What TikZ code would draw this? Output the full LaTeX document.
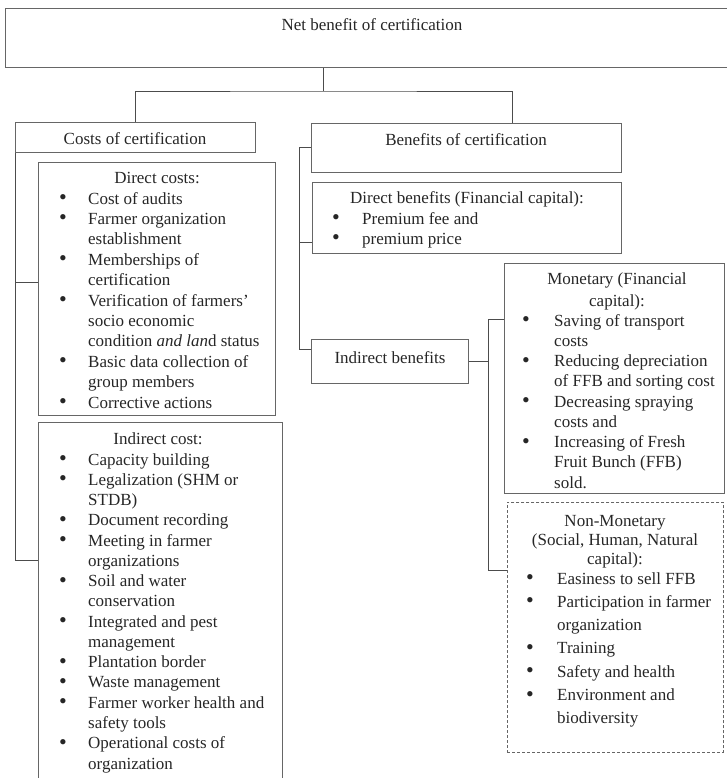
\documentclass[tikz,border=0pt]{standalone}
\usepackage{fontspec}
\setmainfont{Liberation Serif}
\usetikzlibrary{calc,positioning}

\newcommand\bul{\raisebox{-0.5pt}{\scalebox{1.3}{\textbullet}}}
\tikzset{
  frame/.style={draw=black!60,line width=0.8pt,anchor=north west,inner sep=0pt},
  txt/.style={text=black!85,inner sep=0pt,anchor=base,font=\fontsize{17}{20.4}\selectfont},
  lst/.style={txt,anchor=base west},
  wire/.style={draw=black!70,line width=0.8pt},
}

\begin{document}
\begin{tikzpicture}[x=1pt,y=-1pt]
\useasboundingbox (0,0) rectangle (726,778);
% boxes
\node[frame,minimum width=730pt,minimum height=59pt] (net) at (5,8) {};
\node[frame,minimum width=240pt,minimum height=30pt] (costs) at (15,122) {};
\node[frame,minimum width=310pt,minimum height=49pt] (ben) at (311,123) {};
\node[frame,minimum width=237pt,minimum height=253pt] (dcost) at (38,162) {};
\node[frame,minimum width=244pt,minimum height=380pt] (icost) at (38,422) {};
\node[frame,minimum width=309pt,minimum height=71pt] (db) at (312,182) {};
\node[frame,minimum width=157pt,minimum height=44pt] (ib) at (311,339) {};
\node[frame,minimum width=220pt,minimum height=230pt] (mon) at (504,263) {};
\node[frame,dash pattern=on 3pt off 2pt,line width=0.6pt,minimum width=216pt,minimum height=250pt] (nmon) at (507,502) {};

% titles
\node[txt] (netT) at (372,31) {Net benefit of certification};
\node[txt] (costsT) at (135,145) {Costs of certification};
\node[txt] (benT) at (466,146) {Benefits of certification};
\node[txt] (dcostT) at (157,183) {Direct costs:};
\node[txt] (icostT) at (158,444) {Indirect cost:};
\node[txt] (dbT) at (467,203) {Direct benefits (Financial capital):};
\node[txt] (ibT) at (390,363) {Indirect benefits};
\node[txt,font=\fontsize{17}{22}\selectfont] (monT) at (617,284)
  {\begin{tabular}[t]{@{}c@{}}Monetary (Financial\\capital):\end{tabular}};
\node[txt,font=\fontsize{17}{19}\selectfont] (nmonT) at (615,526)
  {\begin{tabular}[t]{@{}c@{}}Non-Monetary\\(Social, Human, Natural\\capital):\end{tabular}};

% lists
\node[lst] (dcostL) at (59,204) {\begin{tabular}[t]{@{}p{29pt}@{}l@{}}
  \bul & Cost of audits\\
  \bul & Farmer organization\\
       & establishment\\
  \bul & Memberships of\\
       & certification\\
  \bul & Verification of farmers'\\
       & socio economic\\
       & condition \textit{and lan}d status\\
  \bul & Basic data collection of\\
       & group members\\
  \bul & Corrective actions
\end{tabular}};
\node[lst,font=\fontsize{17}{20.27}\selectfont] (icostL) at (59,465) {\begin{tabular}[t]{@{}p{29pt}@{}l@{}}
  \bul & Capacity building\\
  \bul & Legalization (SHM or\\
       & STDB)\\
  \bul & Document recording\\
  \bul & Meeting in farmer\\
       & organizations\\
  \bul & Soil and water\\
       & conservation\\
  \bul & Integrated and pest\\
       & management\\
  \bul & Plantation border\\
  \bul & Waste management\\
  \bul & Farmer worker health and\\
       & safety tools\\
  \bul & Operational costs of\\
       & organization
\end{tabular}};
\node[lst] (dbL) at (332,224) {\begin{tabular}[t]{@{}p{30pt}@{}l@{}}
  \bul & Premium fee and\\
  \bul & premium price
\end{tabular}};
\node[lst,font=\fontsize{17}{20.25}\selectfont] (monL) at (522,326) {\begin{tabular}[t]{@{}p{32pt}@{}l@{}}
  \bul & Saving of transport\\
       & costs\\
  \bul & Reducing depreciation\\
       & of FFB and sorting cost\\
  \bul & Decreasing spraying\\
       & costs and\\
  \bul & Increasing of Fresh\\
       & Fruit Bunch (FFB)\\
       & sold.
\end{tabular}};
\node[lst,font=\fontsize{17}{23.3}\selectfont] (nmonL) at (526,584) {\begin{tabular}[t]{@{}p{31pt}@{}l@{}}
  \bul & Easiness to sell FFB\\
  \bul & Participation in farmer\\
       & organization\\
  \bul & Training\\
  \bul & Safety and health\\
  \bul & Environment and\\
       & biodiversity
\end{tabular}};

% connectors
\coordinate (hub) at (323,91);
\draw[wire] (net.south -| hub) -- (hub);
\draw[wire] (costs.north) |- (hub) -| ($(ben.north west)+(201,0)$);
\draw[wire] (costs.south west) |- ([yshift=-138pt]icost.north west);
\draw[wire] ([yshift=6.5pt]dcost.west) -| (costs.south west);
\draw[wire] (ben.west) -- ++(-12,0) |- ([yshift=12pt]ib.west);
\draw[wire] ([yshift=-24.5pt]db.west) -- ++(-13,0);
\draw[wire] (ib.east) -- ++(20,0) coordinate (fork);
\draw[wire] (fork) |- ([yshift=59pt]mon.west);
\draw[wire] (fork) |- ([yshift=57pt]nmon.west);
\end{tikzpicture}
\end{document}
